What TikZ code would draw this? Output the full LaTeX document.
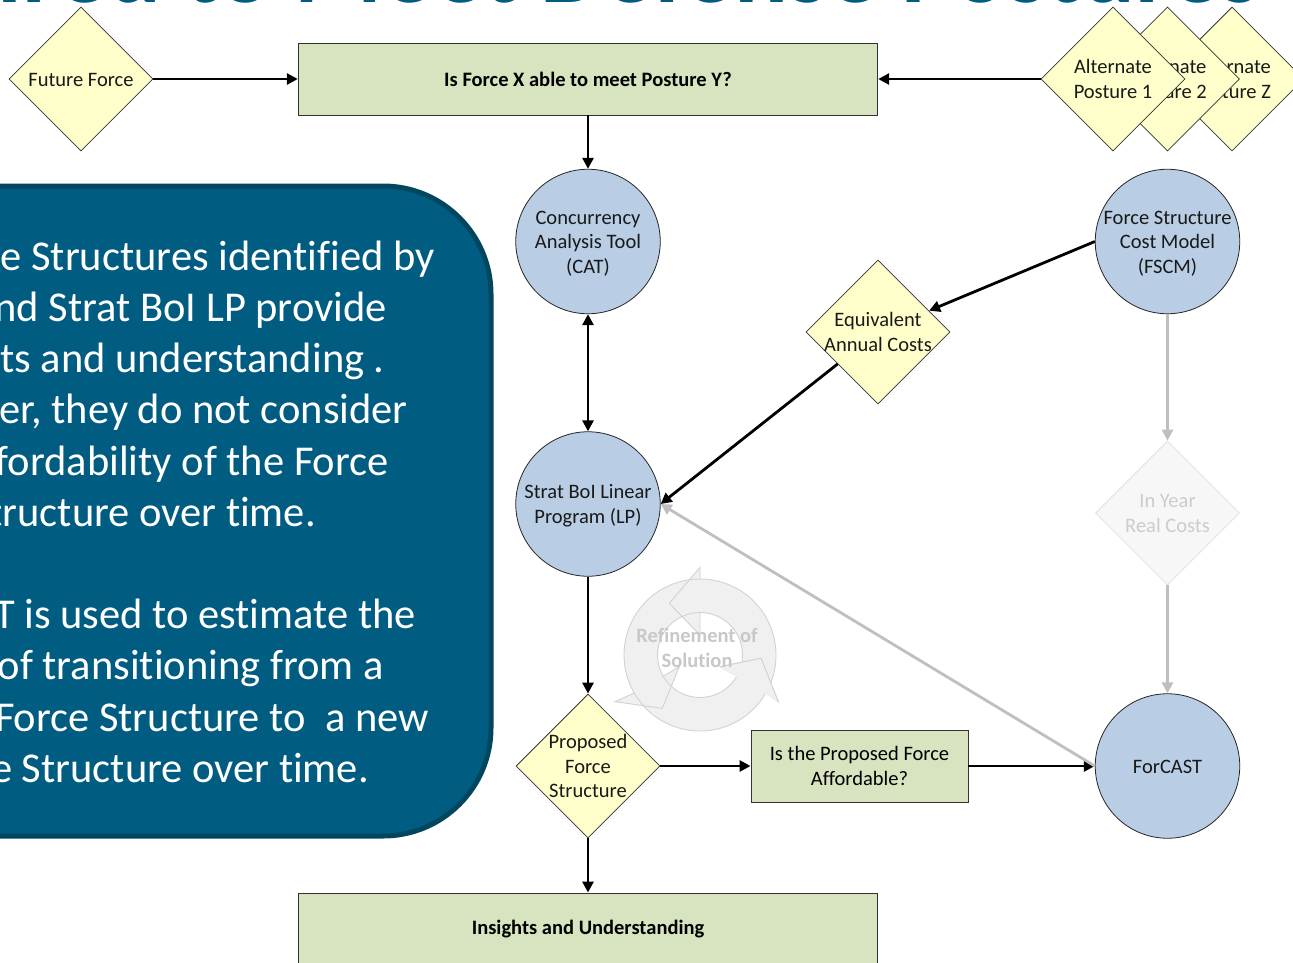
\documentclass[tikz,border=0pt]{standalone}
\usepackage{fontspec}
\setmainfont{Carlito}[Ligatures=NoCommon]
\usetikzlibrary{shapes.geometric,arrows.meta,calc}
\definecolor{panelfill}{HTML}{005C81}
\definecolor{paneledge}{HTML}{00465F}
\definecolor{dia}{HTML}{FFFFCC}
\definecolor{boxg}{HTML}{D8E3BF}
\definecolor{circ}{HTML}{B9CDE5}
\definecolor{greyln}{HTML}{BFBFBF}
\definecolor{cyc}{HTML}{F0F0F0}
\definecolor{cycedge}{HTML}{D2D2D2}
\definecolor{cyctext}{HTML}{C8C8C8}
\newcommand{\lbl}[1]{\makebox[0pt]{\smash{\raisebox{-7.5pt}{\begin{tabular}[c]{@{}c@{}}#1\end{tabular}}}}}
\tikzset{
  x=1pt,y=1pt,
  nodefont/.style={font=\fontsize{20.5}{24.5}\selectfont},
  boldfont/.style={font=\fontsize{20.5}{24.5}\selectfont\bfseries},
  dec/.style={diamond,draw=black!80,line width=0.8pt,fill=dia,minimum width=144pt,minimum height=144pt,inner sep=0pt,aspect=1,nodefont,text=black!90},
  faded/.style={dec,fill=black!3,draw=black!12,text=black!20},
  proc/.style={rectangle,draw=black!80,line width=0.9pt,fill=boxg,inner sep=0pt,nodefont,text=black},
  bubble/.style={circle,draw=black!85,line width=0.8pt,fill=circ,minimum size=144.5pt,inner sep=0pt,nodefont,text=black!90},
  conn/.style={draw=black,line width=2.8pt,-{Triangle[length=11pt,width=11pt]}},
  both/.style={draw=black,line width=2.8pt,{Triangle[length=11pt,width=11pt]}-{Triangle[length=11pt,width=11pt]}},
  gconn/.style={draw=greyln,line width=2.8pt,-{Triangle[length=11pt,width=11pt]}},
  paneltext/.style={anchor=base east,text=white,font=\fontsize{42.5}{50}\selectfont,inner sep=0pt},
  cycline/.style={draw=cycedge,line width=0.9pt}
}
\newcommand{\cycA}{(700,-655)++(330:76) arc[start angle=330,end angle=450,radius=76] -- (700,-567.3) -- (669.3,-603.3) -- (700,-635) -- (700,-612.5) arc[start angle=90,end angle=-30,radius=42.5]}
\newcommand{\cycB}{(700,-655)++(90:76) arc[start angle=90,end angle=210,radius=76] -- (615,-701.7) -- (662.3,-708.3) -- (679.3,-666.7) -- ($(700,-655)+(210:42.5)$) arc[start angle=210,end angle=90,radius=42.5]}
\newcommand{\cycC}{(700,-655)++(210:76) arc[start angle=210,end angle=330,radius=76] -- (778.3,-701.7) -- (761,-658.3) -- (720,-666.7) -- ($(700,-655)+(330:42.5)$) arc[start angle=330,end angle=210,radius=42.5]}
\newcommand{\cycH}{(778.3,-701.7) -- (761,-658.3) -- (720,-666.7)}
\begin{document}
\begin{tikzpicture}
\useasboundingbox (0,-962) rectangle (1293,0);
\clip (0,-962) rectangle (1293,0);
\fill[white] (0,-962) rectangle (1293,0);
% title
\node[anchor=base east,inner sep=0pt,text=panelfill,font=\fontsize{100.5}{110}\selectfont\bfseries] (title) at (1261,-2.5) {Required to Meet Defense Postures};
% panel
\draw[fill=panelfill,draw=paneledge,line width=5pt,rounded corners=108pt] (-200,-186) rectangle (491,-836);
\foreach \i/\xe/\ye/\t in {1/435/-270/e Structures identified by,
 2/387/-321/nd Strat BoI LP provide,
 3/385/-372/ts and understanding .,
 4/408/-423/er{,} they do not consider,
 5/389/-475/fordability of the Force,
 6/316/-526/tructure over time.,
 7/416/-628/T is used to estimate the,
 8/384/-679/of transitioning from a,
 9/429/-731/Force Structure to \ a new,
 10/369/-782/e Structure over time.}
 {\node[paneltext] (pl\i) at (\xe,\ye) {\t};}
% grey shapes first
\node[faded] (inyear) at (1167.5,-513) {\lbl{In Year\\Real Costs}};
\foreach \P in {\cycC,\cycB,\cycA}{\fill[cyc] \P; }
\draw[cycline] \cycC;
\draw[cycline] \cycB;
\draw[cycline] \cycA;
\fill[cyc] \cycH -- cycle;
\draw[cycline] \cycH;
% nodes
\node[dec] (future) at (81,-79) {\lbl{Future Force}};
\node[dec] (altz) at (1232,-79) {\lbl{Alternate\\Posture Z}};
\node[dec] (alt2) at (1167.5,-79) {\lbl{Alternate\\Posture 2}};
\node[dec] (alt1) at (1113,-79) {\lbl{Alternate\\Posture 1}};
\node[proc,minimum width=579.5pt,minimum height=72pt,boldfont] (q) at (588,-79) {Is Force X able to meet Posture Y?};
\node[bubble] (cat) at (588,-241.5) {\lbl{Concurrency\\Analysis Tool\\(CAT)}};
\node[bubble] (fscm) at (1167.5,-241.5) {\lbl{Force Structure\\Cost Model\\(FSCM)}};
\node[dec] (eac) at (878,-332) {\lbl{Equivalent\\Annual Costs}};
\node[bubble] (lp) at (588,-504) {\lbl{Strat BoI Linear\\Program (LP)}};
\node[dec] (pfs) at (588,-766) {\lbl{Proposed\\Force\\Structure}};
\node[proc,minimum width=217pt,minimum height=72pt] (afford) at (859.5,-766) {\lbl{Is the Proposed Force\\Affordable?}};
\node[bubble] (forcast) at (1167.5,-766) {\lbl{ForCAST}};
\node[proc,minimum width=579.5pt,minimum height=72pt,boldfont] (ins) at (588,-929) {Insights and Understanding};
\node[text=cyctext,boldfont] (ref) at (697,-648) {\lbl{Refinement of\\Solution}};
% connectors
\draw[conn] (future) -- (q);
\draw[conn] (alt1) -- (q);
\draw[conn] (q) -- (cat);
\draw[both] (cat) -- (lp);
\draw[conn] (fscm.west) -- (eac);
\draw[conn] (eac) -- (lp.east);
\draw[conn] (lp) -- (pfs);
\draw[conn] (pfs) -- (afford);
\draw[conn] (afford) -- (forcast);
\draw[conn] (pfs) -- (ins);
\draw[gconn] (fscm) -- (inyear);
\draw[gconn] (inyear) -- (forcast);
\draw[gconn] (forcast.west) -- (lp.east);
\end{tikzpicture}
\end{document}
